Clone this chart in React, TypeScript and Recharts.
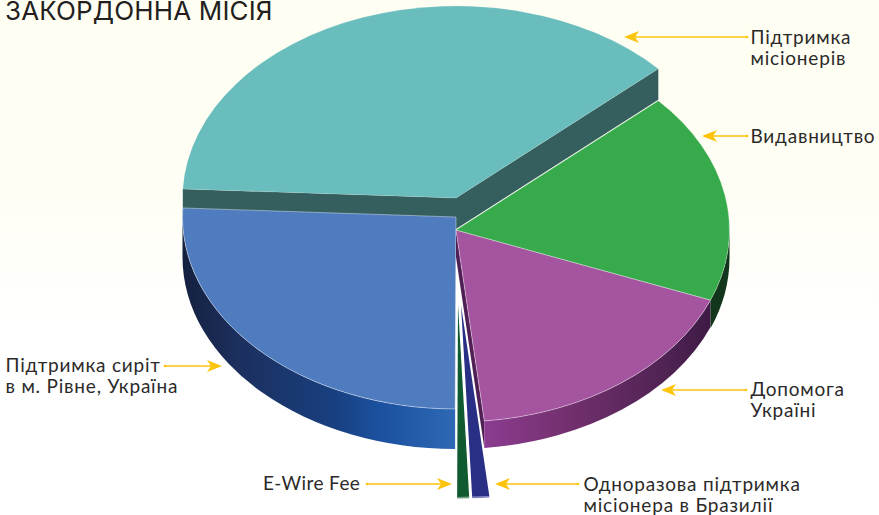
import React from "react";
import { PieChart, Pie } from "recharts";

const categories = [
  "Підтримка місіонерів",
  "Підтримка сиріт в м. Рівне, Україна",
  "E-Wire Fee",
  "Одноразова підтримка місіонера в Бразилії",
  "Допомога Україні",
  "Видавництво",
];
const values = [37.5, 25.7, 0.7, 1.0, 17.4, 17.7];
const labelLines = [
  ["Підтримка", "місіонерів"],
  ["Підтримка сиріт", "в м. Рівне, Україна"],
  ["E-Wire Fee"],
  ["Одноразова підтримка", "місіонера в Бразилії"],
  ["Допомога", "Україні"],
  ["Видавництво"],
];
const title = "ЗАКОРДОННА МІСІЯ";

const data = categories.map((name, i) => ({ name, value: values[i] }));

const W = 879;
const H = 515;
const CX = 456;
const CY = 230;
const RX = 273.5;
const RY = 192;
const FONT = "Lato, 'Noto Sans', sans-serif";
const YELLOW = "#fcc40c";

// Visual styling for each slice: explode offset, wall depth, colours.
const sliceStyles = [
  { dx: 0, dy: -32, depth: 31, top: "#6abdbd", wall: "#355f5e", edge: "rgba(255,255,255,0.15)", faces: true },
  { dx: 0, dy: -13, depth: 40, top: "#4f7cbf", wall: "url(#wallBlue)", edge: "rgba(255,255,255,0.4)", faces: false },
  { dx: 2, dy: 75, depth: 1.5, top: "#0f5a30", wall: "#6f9a80", edge: "none", faces: false },
  { dx: 5, dy: 75, depth: 1.5, top: "#2a2f86", wall: "#7f83c0", edge: "none", faces: false },
  { dx: 0, dy: 0, depth: 27, top: "#a5549f", wall: "url(#wallPurple)", edge: "rgba(255,255,255,0.4)", faces: true },
  { dx: 0, dy: 0, depth: 28, top: "#37ab4b", wall: "#12361b", edge: "rgba(255,255,255,0.3)", faces: false },
];

// Label placement for each slice: text origin and arrow tail/tip.
const labelStyles = [
  { x: 750.5, y: 44, tail: 747, tip: 624, arrowY: 37 },
  { x: 5.5, y: 372, tail: 165, tip: 222, arrowY: 366 },
  { x: 263, y: 490, spacing: 0.4, tail: 367, tip: 452, arrowY: 484 },
  { x: 583.5, y: 491, tail: 578, tip: 495, arrowY: 484 },
  { x: 750.5, y: 396, tail: 746, tip: 661, arrowY: 390 },
  { x: 750.5, y: 143, tail: 747, tip: 702, arrowY: 136 },
];

const rad = (d: number) => (d * Math.PI) / 180;
const pt = (cx: number, cy: number, a: number) => [cx + RX * Math.cos(rad(a)), cy - RY * Math.sin(rad(a))];

function Slice(props: any) {
  const i = categories.indexOf(props.name);
  const s = sliceStyles[i];
  const cx = props.cx + s.dx;
  const cy = props.cy + s.dy;
  const a0 = Math.min(props.startAngle, props.endAngle);
  const a1 = Math.max(props.startAngle, props.endAngle);
  const [x0, y0] = pt(cx, cy, a0);
  const [x1, y1] = pt(cx, cy, a1);
  const large = a1 - a0 > 180 ? 1 : 0;
  const topPath = `M${cx},${cy}L${x0},${y0}A${RX},${RY} 0 ${large} 0 ${x1},${y1}Z`;

  // outer wall: only the part of the rim facing the viewer
  const normA0 = a0 % 360;
  const spanEnd = normA0 + (a1 - a0);
  const parts: React.ReactNode[] = [];
  const wa0 = Math.max(normA0, 180);
  const wa1 = Math.min(spanEnd, 360);
  if (wa1 > wa0) {
    const [wx0, wy0] = pt(cx, cy, wa0);
    const [wx1, wy1] = pt(cx, cy, wa1);
    parts.push(
      <path
        key="wall"
        fill={s.wall}
        d={`M${wx0},${wy0}A${RX},${RY} 0 0 0 ${wx1},${wy1}L${wx1},${wy1 + s.depth}A${RX},${RY} 0 0 1 ${wx0},${wy0 + s.depth}Z`}
      />
    );
  }
  const faces: React.ReactNode[] = [];
  if (s.faces) {
    const faceFill = i === 0 ? "#355f5e" : "#4f1f55";
    const ends = i === 0 ? [[x0, y0], [x1, y1]] : [[x0, y0]];
    ends.forEach(([ex, ey], k) => {
      faces.push(
        <path
          key={`face${k}`}
          fill={faceFill}
          d={`M${cx},${cy}L${ex},${ey}L${ex},${ey + s.depth}L${cx},${cy + s.depth}Z`}
        />
      );
    });
  }
  return (
    <g>
      <defs>
        <linearGradient id="wallBlue" gradientUnits="userSpaceOnUse" x1={183} y1={0} x2={456} y2={0}>
          <stop offset="0" stopColor="#14203f" />
          <stop offset="0.2" stopColor="#1c2f5e" />
          <stop offset="0.55" stopColor="#183f7f" />
          <stop offset="0.72" stopColor="#1b519f" />
          <stop offset="1" stopColor="#2e69b5" />
        </linearGradient>
        <linearGradient id="wallPurple" gradientUnits="userSpaceOnUse" x1={485} y1={0} x2={712} y2={0}>
          <stop offset="0" stopColor="#8b3c90" />
          <stop offset="0.35" stopColor="#74306f" />
          <stop offset="0.8" stopColor="#4f2352" />
          <stop offset="1" stopColor="#3e1a45" />
        </linearGradient>
      </defs>
      {faces}
      {parts}
      <path d={topPath} fill={s.top} stroke={s.edge} strokeWidth={1} />
    </g>
  );
}

function SliceLabel(props: any) {
  const i = categories.indexOf(props.name);
  const l: any = labelStyles[i];
  const dir = l.tip > l.tail ? 1 : -1;
  const head = `M${l.tip},${l.arrowY}L${l.tip - dir * 15},${l.arrowY - 6}L${l.tip - dir * 11},${l.arrowY}L${l.tip - dir * 15},${l.arrowY + 6}Z`;
  return (
    <g>
      <line x1={l.tail} y1={l.arrowY} x2={l.tip - dir * 8} y2={l.arrowY} stroke={YELLOW} strokeWidth={1.4} />
      <circle cx={l.tail} cy={l.arrowY} r={1.3} fill={YELLOW} />
      <path d={head} fill={YELLOW} />
      <text x={l.x} y={l.y} fontFamily={FONT} fontSize={19} letterSpacing={l.spacing ?? 0.8} fill="#2b2a29">
        {labelLines[i].map((t, k) => (
          <tspan key={k} x={l.x} y={l.y + k * 21}>
            {t}
          </tspan>
        ))}
      </text>
    </g>
  );
}

export default function App() {
  return (
    <div
      style={{
        position: "absolute",
        left: 0,
        top: 0,
        width: W,
        height: H,
        overflow: "hidden",
        background: "linear-gradient(to bottom, #fffef2 0px, #fffef4 180px, #ffffff 330px)",
      }}
    >
      <PieChart width={W} height={H} margin={{ top: 0, right: 0, bottom: 0, left: 0 }}>
        <Pie
          data={data}
          dataKey="value"
          nameKey="name"
          cx={CX}
          cy={CY}
          outerRadius={RX}
          startAngle={42.3}
          endAngle={402.3}
          isAnimationActive={false}
          shape={Slice}
          label={SliceLabel}
          labelLine={false}
        />
        <text x={5} y={20} fontFamily="Inter, sans-serif" fontSize={26} letterSpacing={0.15} fill="#231f20">
          {title}
        </text>
      </PieChart>
    </div>
  );
}
